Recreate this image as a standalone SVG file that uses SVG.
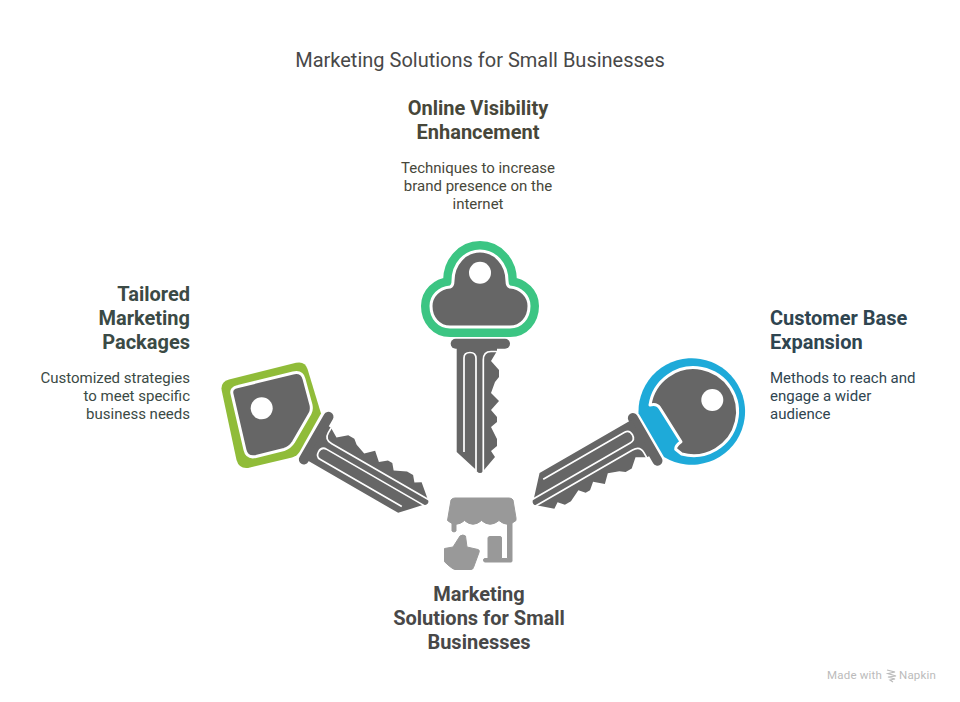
<svg xmlns="http://www.w3.org/2000/svg" width="960" height="702" viewBox="0 0 960 702">
<style>
text{font-family:Roboto,"Liberation Sans",sans-serif}
.t{font-size:20px;fill:#484848;text-anchor:middle}
.h{font-size:20px;font-weight:700}
.b{font-size:15px}
.m{text-anchor:middle}
.e{text-anchor:end}
.gray{fill:#666}
.edge{fill:none;stroke-linejoin:round}
.groove{fill:none;stroke:#fff;stroke-width:1.7}
.icon{fill:#999;stroke:#999;stroke-width:1;stroke-linejoin:round}
</style>
<defs>
<g id="blade">
<rect class="gray" x="450.7" y="338.7" width="59.3" height="10" rx="5"/>
<path class="gray" d="M456.7 346L456.7 452L475.7 469.5L477 471.5Q480 474.5 483 471.5L484 470L495 457L491 451L497 446L497 439L491 427L497 422L497 417L491 410L499 401L491 393L495 382L499 377L499 370L491 361L497 351L497 346Z"/>
<path class="groove" d="M464 452L464 358Q464 352.5 470 352.5Q476 352.5 476 358.500L476 471"/>
<path class="groove" d="M483.300 473L483.300 360Q483.300 351.500 491 351.500L498 351.500"/>
</g>
</defs>
<rect width="960" height="702" fill="#fff"/>
<text class="t" x="480" y="67">Marketing Solutions for Small Businesses</text>
<g id="connectors"/>
<g id="node-top">
<use href="#blade"/>
<path class="edge" stroke="#3CC583" stroke-width="20" d="M453 281C453 264 465 251 480 251C495 251 507 264 507 281Q507 286 510 287C521 288 529 296 529 306C529 318 521 327 510 327L450 327C439 327 431 318 431 306C431 296 439 288 450 287Q453 286 453 281Z"/>
<path class="gray" stroke="#fff" stroke-width="3" stroke-linejoin="round" d="M453 281C453 264 465 251 480 251C495 251 507 264 507 281Q507 286 510 287C521 288 529 296 529 306C529 318 521 327 510 327L450 327C439 327 431 318 431 306C431 296 439 288 450 287Q453 286 453 281Z"/>
<circle cx="480" cy="272.700" r="11" fill="#fff"/>
<text class="h m" fill="#47473A" x="478" y="115">Online Visibility</text>
<text class="h m" fill="#47473A" x="478" y="139">Enhancement</text>
<text class="b m" fill="#47473A" x="478" y="173">Techniques to increase</text>
<text class="b m" fill="#47473A" x="478" y="191">brand presence on the</text>
<text class="b m" fill="#47473A" x="478" y="209">internet</text>
</g>
<g id="node-left">
<use href="#blade" transform="translate(316 438.500) rotate(-60) translate(-480 -343.700)"/>
<path fill="#90BC39" d="M229 379.500L296 362.800Q305 360.800 307.500 369L321 413.500L299.500 452Q297 456 292 457.500L250 467.500Q239.500 470 236.500 460L221.800 391Q220 382 229 379.500Z"/>
<path class="gray" stroke="#fff" stroke-width="3" stroke-linejoin="round" d="M238 386.500L293 373Q302 371 304 379L311 405Q312 410 310 413.500L293.500 442Q290 447.500 284 449.500L256 456.500Q247 458.500 245 450L232 394Q230.500 388 238 386.500Z"/>
<circle cx="261.700" cy="408.300" r="11" fill="#fff"/>
<text class="h e" fill="#3B4A45" x="190" y="301">Tailored</text>
<text class="h e" fill="#3B4A45" x="190" y="325">Marketing</text>
<text class="h e" fill="#3B4A45" x="190" y="349">Packages</text>
<text class="b e" fill="#3B4A45" x="190" y="383">Customized strategies</text>
<text class="b e" fill="#3B4A45" x="190" y="401">to meet specific</text>
<text class="b e" fill="#3B4A45" x="190" y="419">business needs</text>
</g>
<g id="node-right">
<use href="#blade" transform="translate(645 439) rotate(60) translate(-480 -343.700)"/>
<path fill="#1EAAD9" d="M638.500 413.300A53.300 53.300 0 1 1 664 457Z"/>
<path class="gray" stroke="#fff" stroke-width="3" stroke-linejoin="round" d="M650 405A44 44 0 1 1 681.700 454L675.700 449.300Q675 446 681 441.700L660 408.300Q657 403 650 405Z"/>
<circle cx="712.300" cy="400" r="11" fill="#fff"/>
<text class="h" fill="#2F4550" x="770" y="325">Customer Base</text>
<text class="h" fill="#2F4550" x="770" y="349">Expansion</text>
<text class="b" fill="#2F4550" x="770" y="383">Methods to reach and</text>
<text class="b" fill="#2F4550" x="770" y="401">engage a wider</text>
<text class="b" fill="#2F4550" x="770" y="419">audience</text>
</g>
<g id="node-bottom">
<path class="icon" d="M455 498L509 498Q512 498 513 500L516 518Q516 520.500 516 520.500Q507.500 528 499 520.500Q490 528 481.500 520.500Q473 528 464.500 520.500Q456 528 447.500 520.500L451 500Q452 498 455 498Z"/>
<path class="icon" d="M452 522L456 522L456 531Q454 533 452 531Z"/>
<path class="icon" d="M507.500 522L512 522L512 561Q512 562 511 562L485 562Q483.500 562 483.500 560Q483.500 558.500 485 558.500L488 558.500L488 538Q488 536.500 490 536.500L500 536.500Q501.500 536.500 501.500 538L501.500 558.500L507.500 558.500Z"/>
<path class="icon" d="M444.500 548.500L453 547L460 536Q463 534 465.500 536L467 547L478 549.500Q480 550 479 552.500L473.500 567.500Q473 569.500 471 569.500L455 569.500Q452 569 444.500 561.700Z"/>
<text class="h m" fill="#484848" x="479" y="601">Marketing</text>
<text class="h m" fill="#484848" x="479" y="625">Solutions for Small</text>
<text class="h m" fill="#484848" x="479" y="649">Businesses</text>
</g>
<g id="credit">
<text x="827" y="679" font-size="11.500" fill="#bbb" letter-spacing=".2">Made with</text>
<path d="M887 670L895 672L888 673.500L896 676L888 677L895 679L890 680L893 682" stroke="#bbb" stroke-width="1.200" fill="none"/>
<text x="899" y="679" font-size="11.500" fill="#bbb" letter-spacing=".2">Napkin</text>
</g>
</svg>
